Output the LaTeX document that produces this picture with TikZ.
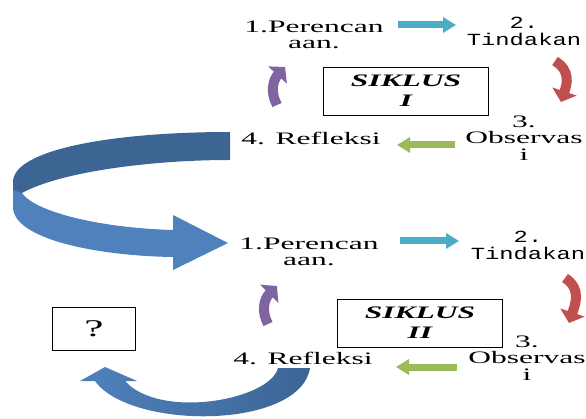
\documentclass[tikz,border=0pt]{standalone}
\usepackage{fontspec}
\setmainfont{Liberation Serif}[FakeStretch=1.8]
\newfontfamily\tindfont{Liberation Mono}[FakeStretch=1.4]
\usetikzlibrary{arrows.meta}
\definecolor{arrcyan}{HTML}{4BACC6}
\definecolor{arrred}{HTML}{C0504D}
\definecolor{arrgreen}{HTML}{9BBB59}
\definecolor{arrpurple}{HTML}{8064A2}
\definecolor{bandlight}{HTML}{4F81BD}
\definecolor{banddark}{HTML}{3D6594}

\begin{document}
\begin{tikzpicture}[x=1pt, y=-1pt,
  every node/.style = {align=center, inner sep=0pt,
    font=\fontsize{17.5}{16.5}\selectfont},
  tindtext/.style = {font=\tindfont\fontsize{17}{17}\selectfont},
  siklusbox/.style = {draw, thick, minimum width=165pt, minimum height=48pt,
    font=\bfseries\itshape\fontsize{17.5}{20}\selectfont},
  qbox/.style = {draw, thick, minimum width=83pt, minimum height=43pt,
    font=\fontsize{24}{24}\selectfont},
  flatarr/.style = {line width=7pt, -{Triangle[width=15pt,length=13pt]}},
  bentarr/.style = {line width=10pt, -{Triangle[width=25pt,length=11pt]}}]
  \useasboundingbox (0,0) rectangle (586,419);

  % siklus I
  \node (plan1) at (314,35) {1.Perencan\\aan.};
  \node[tindtext] (act1) at (524,31) {2.\\Tindakan};
  \node (obs1) at (524,138) {3.\\Observas\\i};
  \node (refl1) at (311,138) {4. Refleksi};
  \node[siklusbox] (sik1) at (406,91) {SIKLUS\\I};

  \coordinate (c1a) at (398,25); \coordinate (c1b) at (456,25);
  \coordinate (r1a) at (555,61); \coordinate (r1b) at (561,102);
  \coordinate (g1a) at (455,145); \coordinate (g1b) at (397,145);
  \coordinate (p1a) at (277,105); \coordinate (p1b) at (285,67);
  \draw[flatarr, arrcyan] (c1a) -- (c1b);
  \draw[bentarr, arrred] (r1a) .. controls (571,71) and (567,84) .. (r1b);
  \draw[flatarr, arrgreen] (g1a) -- (g1b);
  \draw[bentarr, arrpurple] (p1a) .. controls (270,92) and (273,80) .. (p1b);

  % siklus II
  \node (plan2) at (309,252) {1.Perencan\\aan.};
  \node[tindtext] (act2) at (528,245) {2.\\Tindakan};
  \node (obs2) at (527,358) {3.\\Observas\\i};
  \node (refl2) at (303,358) {4. Refleksi};
  \node[siklusbox] (sik2) at (420,323) {SIKLUS\\II};
  \node[qbox] (ques) at (94,329) {?};

  \coordinate (c2a) at (400,241); \coordinate (c2b) at (459,241);
  \coordinate (r2a) at (565,278); \coordinate (r2b) at (569,323);
  \coordinate (g2a) at (457,367); \coordinate (g2b) at (396,367);
  \coordinate (p2a) at (268,324); \coordinate (p2b) at (277,286);
  \draw[flatarr, arrcyan] (c2a) -- (c2b);
  \draw[bentarr, arrred] (r2a) .. controls (582,289) and (575,305) .. (r2b);
  \draw[flatarr, arrgreen] (g2a) -- (g2b);
  \draw[bentarr, arrpurple] (p2a) .. controls (261,311) and (264,299) .. (p2b);

  % big turn arrows
  \fill[banddark] (230,132) .. controls (110,132) and (13,150) .. (13,182)
    -- (13,192) -- (22,193) .. controls (60,172) and (150,160) .. (230,160) -- cycle;
  \fill[bandlight] (13,190) -- (13,208) .. controls (15,240) and (100,256) .. (173,257)
    -- (173,270) -- (228,243) -- (173,215) -- (173,230)
    .. controls (100,228) and (35,212) .. (22,193) -- cycle;
  \shade[left color=bandlight, right color=banddark]
    (278,368) .. controls (270,400) and (160,420) .. (125,381) -- (137,381) -- (105,367)
    -- (80,381) -- (95,381) .. controls (130,430) and (300,430) .. (310,368) -- cycle;
\end{tikzpicture}
\end{document}
